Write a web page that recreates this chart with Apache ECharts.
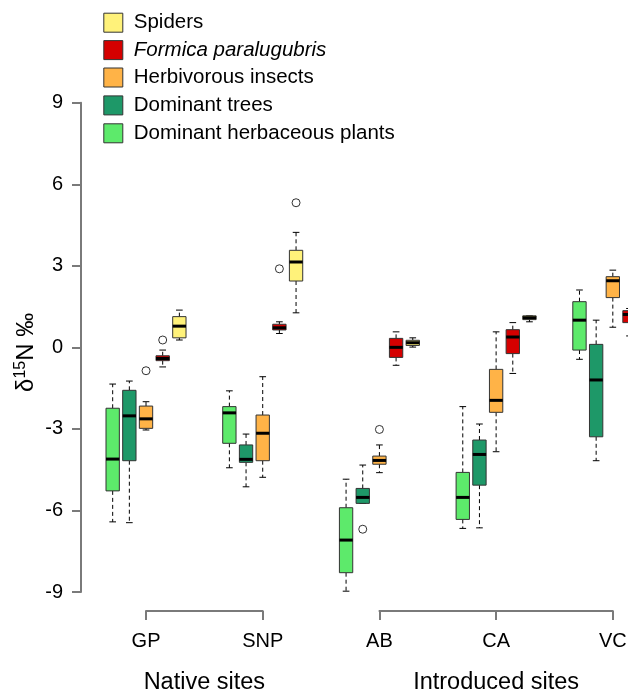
<!DOCTYPE html>
<html>
<head>
<meta charset="utf-8">
<script src="https://cdn.jsdelivr.net/npm/echarts@6/dist/echarts.min.js"></script>
<style>
html,body{margin:0;padding:0;background:#fff;}
#chart{width:628px;height:691px;}
</style>
</head>
<body>
<div id="chart"></div>
<script>
// ---------- data ----------
const sites = ['GP', 'SNP', 'AB', 'CA', 'VC'];
const nativeSites = ['GP', 'SNP'];
const introducedSites = ['AB', 'CA', 'VC'];
const groupNames = ['Native sites', 'Introduced sites'];
const yTicks = [-9, -6, -3, 0, 3, 6, 9];

const seriesNames = ['Dominant herbaceous plants', 'Dominant trees', 'Herbivorous insects', 'Formica paralugubris', 'Spiders'];
const legendOrder = ['Spiders', 'Formica paralugubris', 'Herbivorous insects', 'Dominant trees', 'Dominant herbaceous plants'];
const seriesColors = ['#5DEA6B', '#1E9868', '#FFB347', '#D50000', '#FFF27A'];

// [min, Q1, median, Q3, max] per site (GP, SNP, AB, CA, VC)
const herbPlants = [
  [-6.42, -5.28, -4.11, -2.24, -1.35],
  [-4.43, -3.53, -2.41, -2.18, -1.60],
  [-8.97, -8.29, -7.09, -5.90, -4.85],
  [-6.66, -6.33, -5.52, -4.60, -2.18],
  [-0.44, -0.10, 1.00, 1.68, 2.11]
];
const trees = [
  [-6.45, -4.17, -2.52, -1.58, -1.24],
  [-5.13, -4.23, -4.12, -3.59, -3.19],
  [-5.74, -5.74, -5.52, -5.19, -4.33],
  [-6.64, -5.07, -3.94, -3.41, -2.82],
  [-4.17, -3.29, -1.20, 0.11, 1.00]
];
const herbivores = [
  [-3.04, -2.98, -2.63, -2.16, -2.00],
  [-4.78, -4.17, -3.16, -2.49, -1.08],
  [-4.61, -4.30, -4.16, -4.00, -3.59],
  [-3.84, -2.39, -1.95, -0.81, 0.57],
  [0.74, 1.83, 2.45, 2.60, 2.84]
];
const formica = [
  [-0.72, -0.49, -0.41, -0.31, -0.10],
  [0.51, 0.64, 0.72, 0.85, 0.94],
  [-0.66, -0.37, 0.00, 0.33, 0.57],
  [-0.96, -0.23, 0.38, 0.65, 0.91],
  [0.42, 0.91, 1.21, 1.35, 1.43]
];
const spiders = [
  [0.27, 0.35, 0.78, 1.13, 1.37],
  [1.27, 2.44, 3.14, 3.57, 4.23],
  [0.01, 0.07, 0.17, 0.26, 0.35],
  [0.94, 1.02, 1.09, 1.16, 1.16],
  null
];
// outliers: [site index, value]
const herbPlantsOut = [];
const treesOut = [[2, -6.69]];
const herbivoresOut = [[0, -0.86], [2, -3.02]];
const formicaOut = [[0, 0.27], [1, 2.89]];
const spidersOut = [[1, 5.32]];

const allStats = [herbPlants, trees, herbivores, formica, spiders];
const allOut = [herbPlantsOut, treesOut, herbivoresOut, formicaOut, spidersOut];

// ---------- layout ----------
const FONT = '"Liberation Sans", Arial, sans-serif';
const slotsPerSite = 7;              // 5 boxes + 2 gap slots
const axisLeft = 81;
const xMin = -1.9, xMax = 33;
const unit = 116.7 / slotsPerSite;
const gridTop = 102.7, gridHeight = 489.3;
const bracketY = 611;
const xPos = (site, s) => site * slotsPerSite + s;
const px = (xv) => axisLeft + (xv - xMin) * unit;

function renderBox(params, api) {
  const x = api.value(0);
  const c = (i) => api.coord([x, api.value(i)]);
  const pMin = c(1), pQ1 = c(2), pMed = c(3), pQ3 = c(4), pMax = c(5);
  const bw = api.size([0.8, 0])[0];
  const cw = bw / 2;
  const cx = pMed[0];
  const color = api.visual('color');
  const dash = { stroke: '#000', lineWidth: 1, lineDash: [4, 3] };
  const solid = { stroke: '#000', lineWidth: 1 };
  return {
    type: 'group',
    children: [
      { type: 'line', shape: { x1: cx, y1: pQ3[1], x2: cx, y2: pMax[1] }, style: dash },
      { type: 'line', shape: { x1: cx, y1: pQ1[1], x2: cx, y2: pMin[1] }, style: dash },
      { type: 'line', shape: { x1: cx - cw / 2, y1: pMax[1], x2: cx + cw / 2, y2: pMax[1] }, style: solid },
      { type: 'line', shape: { x1: cx - cw / 2, y1: pMin[1], x2: cx + cw / 2, y2: pMin[1] }, style: solid },
      { type: 'rect', shape: { x: cx - bw / 2, y: pQ3[1], width: bw, height: pQ1[1] - pQ3[1] },
        style: { fill: color, stroke: '#333', lineWidth: 1 } },
      { type: 'line', shape: { x1: cx - bw / 2, y1: pMed[1], x2: cx + bw / 2, y2: pMed[1] },
        style: { stroke: '#000', lineWidth: 3 } }
    ]
  };
}

const series = seriesNames.map((name, s) => ({
  name: name,
  type: 'custom',
  xAxisIndex: 0, yAxisIndex: 0,
  renderItem: renderBox,
  itemStyle: { color: seriesColors[s] },
  encode: { x: 0, y: [1, 2, 3, 4, 5] },
  data: allStats[s].map((st, site) => st ? [xPos(site, s)].concat(st) : null).filter(d => d),
  silent: true
}));

const outData = [];
allOut.forEach((arr, s) => arr.forEach(o => outData.push([xPos(o[0], s), o[1]])));
series.push({
  name: 'outliers',
  type: 'scatter',
  xAxisIndex: 0, yAxisIndex: 0,
  symbol: 'circle',
  symbolSize: 8,
  clip: false,
  itemStyle: { color: 'rgba(0,0,0,0)', borderColor: '#000', borderWidth: 1 },
  data: outData,
  silent: true
});

const axisGray = '#7a7a7a';
const bracketAxis = (gi, data, name) => ({
  gridIndex: gi,
  type: 'category',
  data: data,
  boundaryGap: false,
  position: 'bottom',
  axisLine: { show: true, onZero: false, lineStyle: { color: axisGray, width: 2 } },
  axisTick: { show: true, length: 9, inside: false, lineStyle: { color: axisGray, width: 2 } },
  axisLabel: { show: true, fontSize: 20, color: '#000', fontFamily: FONT, margin: 20 },
  splitLine: { show: false },
  name: name,
  nameLocation: 'middle',
  nameGap: 60,
  nameTextStyle: { fontSize: 23.5, color: '#000', fontFamily: FONT }
});

const option = {
  backgroundColor: '#fff',
  animation: false,
  legend: {
    orient: 'vertical',
    left: 103.3,
    top: 12.2,
    padding: 0,
    itemWidth: 19,
    itemHeight: 19,
    itemGap: 6.9,
    icon: 'rect',
    selectedMode: false,
    data: legendOrder,
    itemStyle: { borderColor: '#333', borderWidth: 1 },
    formatter: (n) => n === 'Formica paralugubris' ? '{it|' + n + '}' : n,
    textStyle: {
      fontSize: 20.5, color: '#000', fontFamily: FONT, padding: [0, 0, 0, 6],
      rich: { it: { fontStyle: 'italic', fontSize: 20.5, color: '#000', fontFamily: FONT } }
    }
  },
  grid: [
    { left: axisLeft, top: gridTop, width: (xMax - xMin) * unit, height: gridHeight, outerBoundsMode: 'none', containLabel: false },
    { left: px(2), top: bracketY - 10, width: (slotsPerSite) * unit, height: 10, outerBoundsMode: 'none', containLabel: false },
    { left: px(xPos(2, 2)), top: bracketY - 10, width: 2 * slotsPerSite * unit, height: 10, outerBoundsMode: 'none', containLabel: false }
  ],
  xAxis: [
    { gridIndex: 0, type: 'value', min: xMin, max: xMax, show: false },
    bracketAxis(1, nativeSites, groupNames[0]),
    bracketAxis(2, introducedSites, groupNames[1])
  ],
  yAxis: [
    { gridIndex: 0, type: 'value', min: yTicks[0], max: yTicks[yTicks.length - 1], interval: 3,
      position: 'left',
      axisLine: { show: true, onZero: false, lineStyle: { color: axisGray, width: 2 } },
      axisTick: { show: true, length: 9, lineStyle: { color: axisGray, width: 2 } },
      axisLabel: { fontSize: 20, color: '#000', fontFamily: FONT, margin: 18 },
      splitLine: { show: false },
      name: '{a|δ}{b|15}{a|N ‰}',
      nameLocation: 'middle',
      nameGap: 42,
      nameMoveOverlap: false,
      nameRotate: 90,
      nameTextStyle: {
        fontFamily: FONT, color: '#000', padding: [0, 10, 0, 0],
        rich: {
          a: { fontSize: 24, fontFamily: FONT, color: '#000', lineHeight: 26 },
          b: { fontSize: 16, fontFamily: FONT, color: '#000', verticalAlign: 'top', lineHeight: 26, padding: [0, 0, 10, 0] }
        }
      }
    },
    { gridIndex: 1, type: 'value', show: false },
    { gridIndex: 2, type: 'value', show: false }
  ],
  series: series
};

const chart = echarts.init(document.getElementById('chart'), null, { renderer: 'canvas' });
chart.setOption(option);
</script>
</body>
</html>
